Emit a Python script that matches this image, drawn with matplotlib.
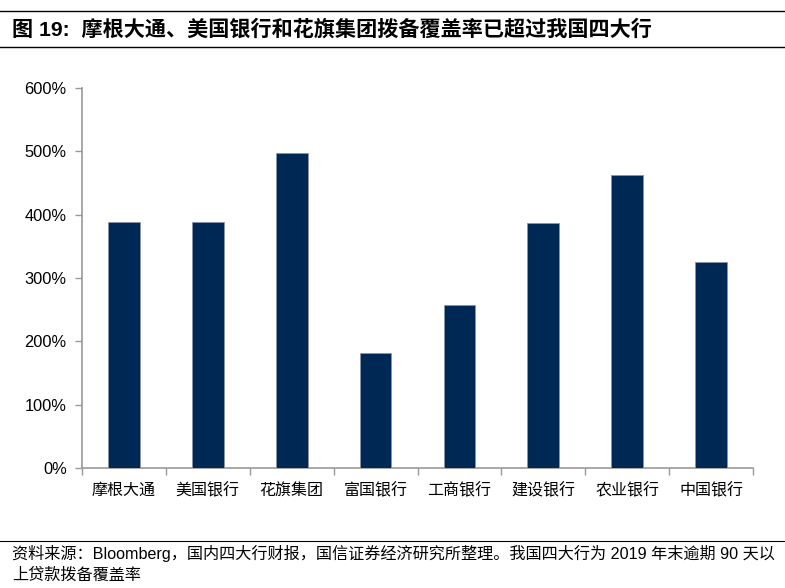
import matplotlib
matplotlib.use("Agg")
import matplotlib.pyplot as plt
import numpy as np

# 拨备覆盖率 (%)
banks = ["摩根大通", "美国银行", "花旗集团", "富国银行", "工商银行", "建设银行", "农业银行", "中国银行"]
coverage = [388, 388, 497, 182, 258, 387, 462, 325]
yticks = [0, 100, 200, 300, 400, 500, 600]

plt.rcParams['font.family'] = ['Liberation Sans', 'Noto Sans CJK SC']

fig = plt.figure(figsize=(7.85, 5.88), dpi=100)
ax = fig.add_axes([82/785, 1-468/588, (753-82)/785, (468-88)/588])

x = np.arange(len(banks))
ax.bar(x, coverage, width=0.38, color="#002855", edgecolor="#8a94a8", linewidth=0.6, zorder=3)

ax.set_xlim(-0.5, len(banks)-0.5)
ax.set_ylim(0, 600)
ax.set_yticks(yticks)
ax.set_yticklabels([f"{v}%" for v in yticks], fontsize=11.8)
ax.set_xticks(x)
ax.set_xticklabels(banks, fontsize=11.5, family=['Noto Sans CJK SC'])
ax.tick_params(axis='x', length=0, pad=10)
ax.set_xticks(np.arange(len(banks)+1)-0.5, minor=True)
ax.tick_params(axis='x', which='minor', length=5, color="#999999", width=1)
ax.tick_params(axis='y', length=5, color="#999999", width=1, pad=6)

for s in ['top', 'right']:
    ax.spines[s].set_visible(False)
for s in ['left', 'bottom']:
    ax.spines[s].set_color("#999999")
    ax.spines[s].set_linewidth(1.2)

# title and frame lines
fig.add_artist(plt.Line2D([0, 1], [1-11/588, 1-11/588], color="black", linewidth=1))
fig.add_artist(plt.Line2D([0, 1], [1-47/588, 1-47/588], color="black", linewidth=1))
fig.text(12/785, 1-29/588, "图 19:  摩根大通、美国银行和花旗集团拨备覆盖率已超过我国四大行",
         fontsize=15.2, fontweight='bold', va='center', ha='left',
         family=['Liberation Sans', 'Noto Sans CJK SC'])

fig.add_artist(plt.Line2D([0, 1], [1-541/588, 1-541/588], color="black", linewidth=0.8))
fig.text(12/785, 1-553/588,
         "资料来源：Bloomberg，国内四大行财报，国信证券经济研究所整理。我国四大行为 2019 年末逾期 90 天以",
         fontsize=11.6, va='center', ha='left', family=['Liberation Sans', 'Noto Sans CJK SC'])
fig.text(12/785, 1-575/588, "上贷款拨备覆盖率",
         fontsize=11.6, va='center', ha='left', family=['Noto Sans CJK SC'])

fig.savefig("out.png", dpi=100)
